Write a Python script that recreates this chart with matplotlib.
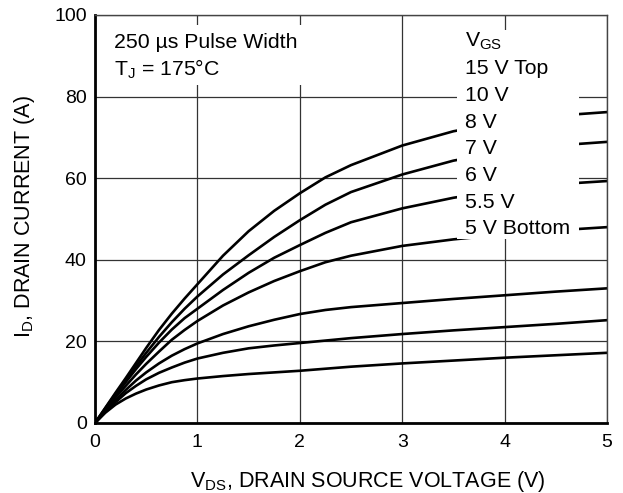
import matplotlib.pyplot as plt
from matplotlib.patches import Rectangle

plt.rcParams['font.family'] = ['Liberation Sans', 'DejaVu Sans']
plt.rcParams['mathtext.fontset'] = 'custom'
plt.rcParams['mathtext.rm'] = 'Liberation Sans'
plt.rcParams['mathtext.it'] = 'Liberation Sans:italic'

# drain-source voltage (V)
vds = [0, 0.1, 0.2, 0.3, 0.4, 0.5, 0.625, 0.75, 0.875, 1.0, 1.25, 1.5, 1.75,
       2.0, 2.25, 2.5, 3.0, 3.5, 4.0, 4.5, 5.0]

# drain current (A) for each gate voltage
id_15v = [0, 3.7, 7.4, 11.0, 14.7, 18.4, 22.8, 26.8, 30.5, 34.0, 41.0, 47.0, 52.0,
          56.3, 60.2, 63.2, 68.0, 71.5, 73.8, 75.3, 76.2]
id_10v = [0, 3.6, 7.1, 10.5, 13.9, 17.2, 21.1, 24.7, 28.0, 31.0, 36.4, 41.1, 45.6,
          49.7, 53.5, 56.6, 60.9, 64.3, 66.6, 68.0, 68.9]
id_8v = [0, 3.4, 6.8, 10.0, 13.2, 16.2, 19.7, 22.9, 25.7, 28.0, 32.6, 36.8, 40.5,
         43.6, 46.6, 49.2, 52.6, 55.2, 57.2, 58.5, 59.3]
id_7v = [0, 3.2, 6.3, 9.1, 11.9, 14.5, 17.5, 20.4, 22.8, 25.0, 28.8, 32.0, 34.8,
         37.2, 39.4, 41.0, 43.4, 45.0, 46.2, 47.2, 48.0]
id_6v = [0, 2.9, 5.6, 8.1, 10.4, 12.4, 14.6, 16.5, 18.1, 19.5, 21.8, 23.7, 25.3,
         26.7, 27.7, 28.4, 29.4, 30.4, 31.3, 32.2, 33.0]
id_55v = [0, 2.7, 5.1, 7.3, 9.1, 10.7, 12.3, 13.6, 14.8, 15.8, 17.2, 18.3, 19.0,
          19.6, 20.2, 20.8, 21.8, 22.7, 23.5, 24.3, 25.2]
id_5v = [0, 2.5, 4.5, 6.0, 7.2, 8.2, 9.2, 10.0, 10.5, 10.9, 11.5, 12.0, 12.4,
         12.8, 13.3, 13.8, 14.6, 15.3, 16.0, 16.6, 17.2]

curves = [id_15v, id_10v, id_8v, id_7v, id_6v, id_55v, id_5v]

vgs_labels = ['15 V Top', '10 V', '8 V', '7 V', '6 V', '5.5 V', '5 V Bottom']

fig = plt.figure(figsize=(6.23, 4.93), dpi=100)
ax = fig.add_axes([0.1525, 0.142, 0.8218, 0.8276])

for cur in curves:
    ax.plot(vds, cur, color='black', lw=1.9, zorder=2, solid_joinstyle='round')

ax.set_xlim(0, 5)
ax.set_ylim(0, 100)
ax.set_xticks([0, 1, 2, 3, 4, 5])
ax.set_yticks([0, 20, 40, 60, 80, 100])
ax.grid(True, color='#333333', lw=0.9, zorder=1)
ax.set_axisbelow(True)
ax.tick_params(length=0, labelsize=14)
ax.tick_params(axis='x', pad=8)
ax.tick_params(axis='y', pad=6)

for side in ['left', 'bottom']:
    ax.spines[side].set_linewidth(2.0)
    ax.spines[side].set_color('black')
for side in ['top', 'right']:
    ax.spines[side].set_linewidth(1.0)
    ax.spines[side].set_color('#444444')

# white boxes behind the notes
ax.add_patch(Rectangle((0.03, 82.8), 2.02, 14.7, facecolor='white', edgecolor='none', zorder=3))
ax.add_patch(Rectangle((3.535, 45.1), 1.19, 51.2, facecolor='white', edgecolor='none', zorder=3))

fs = 15.3
ax.text(0.186, 91.9, '250 \u00b5s Pulse Width', fontsize=fs, va='baseline', zorder=4)
ax.text(0.186, 85.2, 'T$_{\\mathrm{J}}$ = 175\u00b0C', fontsize=fs, va='baseline', zorder=4)

ax.text(3.613, 92.2, r'V$_{\mathrm{GS}}$', fontsize=fs, va='baseline', zorder=4)
for i, lab in enumerate(vgs_labels):
    ax.text(3.613, 85.5 - i * 6.55, lab, fontsize=fs, va='baseline', zorder=4)

ax.set_xlabel(r'V$_{\mathrm{DS}}$, DRAIN SOURCE VOLTAGE (V)', fontsize=15.5)
ax.set_ylabel(r'I$_{\mathrm{D}}$, DRAIN CURRENT (A)', fontsize=15.5)
ax.xaxis.set_label_coords(0.533, -0.113)
ax.yaxis.set_label_coords(-0.113, 0.506)

fig.savefig('out.png', dpi=100)
